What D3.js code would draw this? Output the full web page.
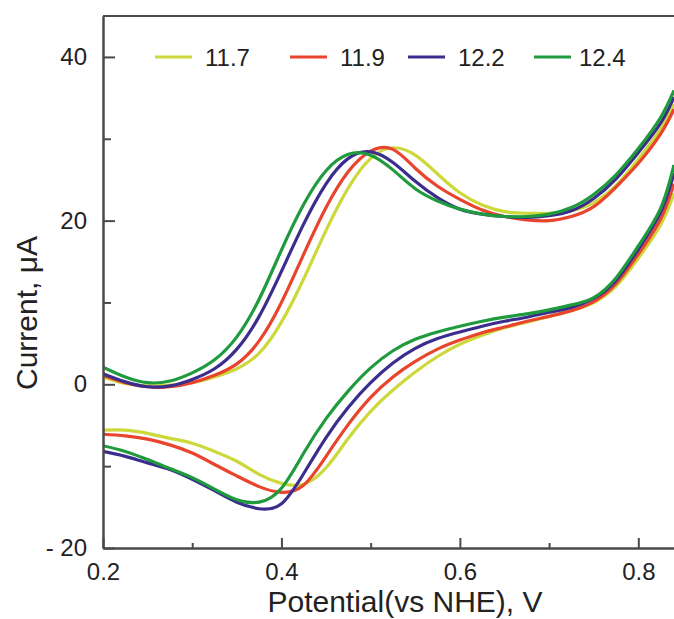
<!DOCTYPE html>
<html>
<head>
<meta charset="utf-8">
<script src="https://cdn.jsdelivr.net/npm/d3@7"></script>
<style>
  body { margin: 0; background: #fff; }
  svg { display: block; font-family: Arial, "Liberation Sans", sans-serif; }
  .axis path, .axis line { stroke: #4a4a4a; stroke-width: 2; }
  .axis text { fill: #222; font-size: 24px; font-family: Arial, "Liberation Sans", sans-serif; }
</style>
</head>
<body>
<svg width="674" height="619"></svg>
<script>
// pH of each run
let series = ["11.7", "11.9", "12.2", "12.4"];
let colors = ["#cdd83b", "#e8442e", "#3b2d8e", "#1f9a3d"];

// potential grid (V vs NHE)
let potential = [0.200, 0.225, 0.250, 0.275, 0.300, 0.325, 0.350, 0.375, 0.400,
  0.425, 0.450, 0.475, 0.500, 0.525, 0.550, 0.575, 0.600, 0.625, 0.650, 0.675,
  0.700, 0.725, 0.750, 0.775, 0.800, 0.825, 0.840];

// forward (anodic) scan, current in uA
let forward117 = [0.9, 0.1, -0.2, -0.1, 0.2, 0.9, 1.9, 3.8, 7.6, 12.9, 18.8, 24.0, 27.6, 28.9, 28.0, 25.7, 23.4, 21.9, 21.1, 20.9, 20.9, 21.2, 22.2, 24.3, 27.5, 31.2, 34.2];
let forward119 = [1.1, 0.2, -0.3, -0.3, 0.2, 1.1, 2.5, 5.3, 10.0, 15.9, 21.6, 26.0, 28.5, 28.7, 26.4, 24.2, 22.6, 21.3, 20.5, 20.1, 20.0, 20.5, 21.7, 24.1, 27.0, 30.6, 33.6];
let forward122 = [1.3, 0.3, -0.3, -0.2, 0.6, 1.9, 4.3, 8.3, 13.8, 19.6, 24.5, 27.6, 28.4, 27.1, 24.8, 22.8, 21.4, 20.8, 20.5, 20.4, 20.6, 21.2, 22.7, 25.1, 28.3, 31.9, 35.1];
let forward124 = [2.1, 0.9, 0.2, 0.4, 1.4, 3.0, 5.8, 10.4, 16.4, 22.0, 26.1, 28.1, 28.0, 26.2, 23.9, 22.4, 21.4, 20.8, 20.5, 20.5, 20.8, 21.6, 23.2, 25.6, 28.8, 32.6, 35.9];

// reverse (cathodic) scan, current in uA
let reverse117 = [-5.6, -5.6, -6.0, -6.6, -7.2, -8.2, -9.4, -11.0, -12.1, -12.2, -10.2, -6.6, -3.3, -0.7, 1.5, 3.4, 4.9, 6.0, 6.9, 7.6, 8.3, 9.0, 10.0, 12.0, 15.4, 19.5, 23.3];
let reverse119 = [-6.1, -6.3, -6.7, -7.4, -8.4, -9.8, -11.2, -12.5, -13.2, -12.3, -8.8, -4.9, -1.6, 0.9, 2.8, 4.3, 5.4, 6.3, 7.0, 7.7, 8.3, 9.0, 10.1, 12.3, 15.9, 20.2, 24.5];
let reverse122 = [-8.2, -8.8, -9.6, -10.4, -11.6, -13.0, -14.4, -15.2, -14.6, -10.9, -6.5, -2.8, 0.2, 2.6, 4.4, 5.6, 6.4, 7.1, 7.7, 8.2, 8.8, 9.4, 10.5, 12.7, 16.5, 21.0, 25.8];
let reverse124 = [-7.5, -8.2, -9.2, -10.3, -11.4, -12.8, -14.1, -14.4, -12.7, -8.4, -4.2, -0.8, 2.0, 4.1, 5.5, 6.4, 7.1, 7.7, 8.2, 8.6, 9.1, 9.7, 10.6, 13.0, 16.9, 21.5, 26.8];

let forwardScans = [forward117, forward119, forward122, forward124];
let reverseScans = [reverse117, reverse119, reverse122, reverse124];

// tick values
let xMajor = [0.2, 0.4, 0.6, 0.8];
let xMinor = [0.3, 0.5, 0.7];
let yMajor = [-20, 0, 20, 40];
let yMinor = [-10, 10, 30];

// layout
let plotLeft = 103, plotRight = 674, plotTop = 16, plotBottom = 548;
let legendLeft = [155, 290, 408, 534];

let svg = d3.select("svg");

let xScale = d3.scaleLinear().domain([0.2, 0.84]).range([plotLeft, plotRight]);
let yScale = d3.scaleLinear().domain([-20, 45]).range([plotBottom, plotTop]);

svg.append("clipPath").attr("id", "plotclip")
  .append("rect")
    .attr("x", plotLeft).attr("y", plotTop)
    .attr("width", plotRight - plotLeft).attr("height", plotBottom - plotTop);

// curves
let line = d3.line()
  .x(function(d) { return xScale(d[0]) })
  .y(function(d) { return yScale(d[1]) })
  .curve(d3.curveNatural);

let plot = svg.append("g").attr("clip-path", "url(#plotclip)");

series.forEach(function(name, i) {
  [forwardScans[i], reverseScans[i]].forEach(function(values) {
    plot.append("path")
      .datum(potential.map(function(e, j) { return [e, values[j]] }))
      .attr("fill", "none")
      .attr("stroke", colors[i])
      .attr("stroke-width", 3.2)
      .attr("stroke-linejoin", "round")
      .attr("d", line);
  });
});

// axes
svg.append("g").attr("class", "axis")
  .attr("transform", "translate(0," + plotBottom + ")")
  .call(d3.axisBottom(xScale).tickValues(xMinor).tickSizeInner(-5).tickSizeOuter(0).tickFormat(""));
svg.append("g").attr("class", "axis")
  .attr("transform", "translate(0," + plotBottom + ")")
  .call(d3.axisBottom(xScale).tickValues(xMajor).tickSizeInner(-10).tickSizeOuter(0)
    .tickPadding(15).tickFormat(d3.format(".1f")));

svg.append("g").attr("class", "axis")
  .attr("transform", "translate(" + plotLeft + ",0)")
  .call(d3.axisLeft(yScale).tickValues(yMinor).tickSizeInner(-8).tickSizeOuter(0).tickFormat(""));
svg.append("g").attr("class", "axis")
  .attr("transform", "translate(" + plotLeft + ",0)")
  .call(d3.axisLeft(yScale).tickValues(yMajor).tickSizeInner(-12).tickSizeOuter(0)
    .tickPadding(16).tickFormat(function(d) { return d < 0 ? "- " + Math.abs(d) : d }));

// top frame line
svg.append("line")
  .attr("x1", plotLeft).attr("x2", plotRight)
  .attr("y1", plotTop).attr("y2", plotTop)
  .attr("stroke", "#4a4a4a").attr("stroke-width", 2);

// axis titles
svg.append("text")
  .attr("x", 405).attr("y", 612)
  .attr("text-anchor", "middle")
  .attr("font-size", 30).attr("fill", "#222")
  .text("Potential(vs NHE), V");

svg.append("text")
  .attr("transform", "translate(37,313) rotate(-90)")
  .attr("text-anchor", "middle")
  .attr("font-size", 30).attr("fill", "#222")
  .text("Current, \u03bcA");

// legend
let legend = svg.append("g");
series.forEach(function(name, i) {
  legend.append("line")
    .attr("x1", legendLeft[i]).attr("x2", legendLeft[i] + 37)
    .attr("y1", yScale(40)).attr("y2", yScale(40))
    .attr("stroke", colors[i]).attr("stroke-width", 3);
  legend.append("text")
    .attr("x", legendLeft[i] + (i == 3 ? 45 : 50))
    .attr("y", yScale(40) + 9)
    .attr("font-size", 24).attr("fill", "#222")
    .text(name);
});
</script>
</body>
</html>
